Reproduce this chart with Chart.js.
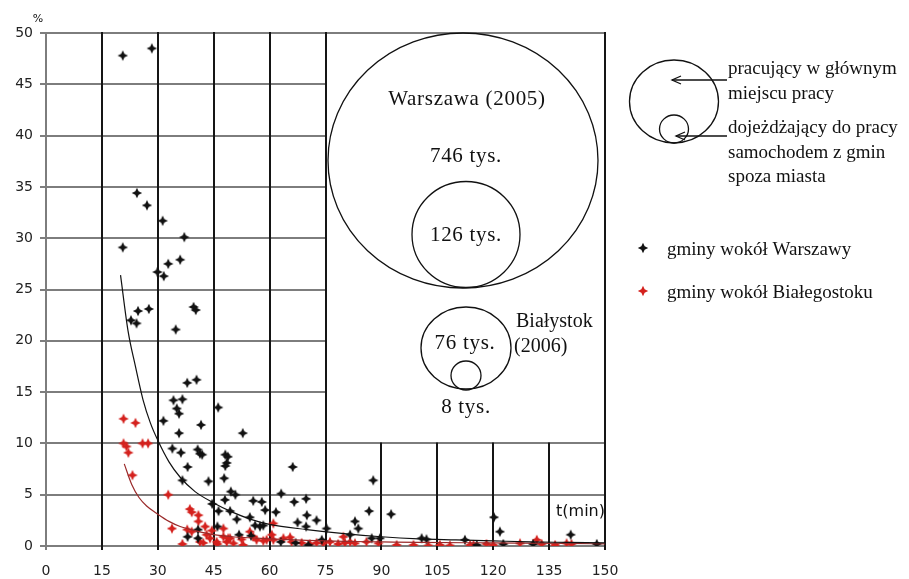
<!DOCTYPE html>
<html>
<head>
<meta charset="utf-8">
<script src="https://cdn.jsdelivr.net/npm/chart.js@4.4.1/dist/chart.umd.min.js"></script>
<style>
    body { margin: 0; background: #fff; }
    canvas { display: block; }
</style>
</head>
<body>
<canvas id="myChart" width="909" height="579"></canvas>
<script>
// axis ticks
const xTicks = [0, 15, 30, 45, 60, 75, 90, 105, 120, 135, 150]
const yTicks = [0, 5, 10, 15, 20, 25, 30, 35, 40, 45, 50]

// gminy wokół Warszawy: czas dojazdu (min) / udział (%)
const warsawTime = [20.6, 28.4, 24.4, 27.1, 31.3, 37.1, 20.6, 36.0, 32.8, 29.9, 31.6, 24.7, 27.6, 22.8, 24.3,
    39.6, 40.2, 34.8, 37.9, 40.4, 34.2, 36.6, 35.1, 35.7, 46.2, 31.5, 41.6, 35.7, 52.8, 33.9, 36.2, 40.7, 41.3,
    41.9, 48.1, 48.8, 48.5, 38.0, 48.1, 66.2, 36.6, 43.6, 47.8, 49.6, 50.8, 63.1, 69.8, 55.6, 57.9, 48.0, 66.6,
    58.8, 49.4, 61.7, 46.3, 70.0, 51.2, 54.7, 67.5, 72.6, 56.1, 57.4, 58.3, 69.8, 46.0, 40.8, 51.8, 38.0, 40.8,
    44.6, 75.3, 87.8, 86.7, 92.6, 82.9, 83.8, 81.6, 87.4, 89.6, 100.8, 102.1, 112.4, 115.6, 120.2, 121.8, 140.8,
    122.7, 130.7, 147.8, 70.4, 63.0, 67.0, 74.0, 55.0]
const warsawShare = [47.8, 48.5, 34.4, 33.2, 31.7, 30.1, 29.1, 27.9, 27.5, 26.7, 26.3, 22.9, 23.1, 22.0, 21.7,
    23.3, 23.0, 21.1, 15.9, 16.2, 14.2, 14.3, 13.4, 12.9, 13.5, 12.2, 11.8, 11.0, 11.0, 9.5, 9.1, 9.4, 9.0,
    8.9, 8.9, 8.7, 8.1, 7.7, 7.8, 7.7, 6.4, 6.3, 6.6, 5.3, 5.0, 5.1, 4.6, 4.4, 4.3, 4.5, 4.3,
    3.5, 3.4, 3.3, 3.4, 3.0, 2.6, 2.8, 2.3, 2.5, 2.0, 1.9, 2.0, 1.9, 1.9, 1.6, 1.1, 0.9, 0.75,
    4.1, 1.7, 6.4, 3.4, 3.1, 2.4, 1.7, 1.1, 0.75, 0.75, 0.75, 0.65, 0.6, 0.1, 2.8, 1.4, 1.1,
    0.2, 0.2, 0.2, 0.1, 0.4, 0.3, 0.6, 1.0]

// gminy wokół Białegostoku
const bialystokTime = [20.8, 24.0, 20.8, 25.9, 27.4, 21.6, 22.1, 23.2, 32.8, 38.6, 39.1, 40.9, 40.9, 33.8, 37.9,
    39.1, 42.7, 43.1, 44.0, 41.3, 42.2, 36.6, 47.6, 48.5, 45.8, 47.6, 48.9, 52.5, 54.7, 56.5, 58.3, 60.6, 61.0,
    61.0, 63.7, 65.5, 65.9, 68.6, 70.8, 72.6, 74.4, 76.2, 78.4, 80.2, 79.8, 81.6, 82.9, 86.0, 89.2, 94.1, 98.6,
    102.6, 105.7, 108.4, 113.8, 114.7, 118.2, 120.0, 127.2, 131.7, 133.0, 136.6, 139.7, 141.0, 50.3, 52.9, 55.6,
    59.2, 49.4, 44.5, 46.0]
const bialystokShare = [12.4, 12.0, 10.0, 10.0, 10.0, 9.7, 9.1, 6.9, 5.0, 3.6, 3.3, 3.0, 2.4, 1.7, 1.6,
    1.4, 1.9, 1.1, 0.75, 0.4, 0.3, 0.2, 0.9, 0.4, 0.4, 1.7, 0.75, 0.65, 1.4, 0.6, 0.5, 1.1, 0.6,
    2.2, 0.75, 0.85, 0.4, 0.3, 0.2, 0.3, 0.26, 0.4, 0.2, 0.3, 0.9, 0.4, 0.26, 0.4, 0.26, 0.1, 0.1,
    0.05, 0.1, 0.05, 0.1, 0.1, 0.2, 0.1, 0.26, 0.6, 0.2, 0.1, 0.26, 0.2, 0.26, 0.1, 0.9,
    0.6, 0.75, 1.5, 0.2]

// linie trendu
const warsawTrendTime = [20, 22, 24, 26, 28, 30, 33, 36, 40, 45, 50, 55, 60, 70, 80, 90, 100, 110, 120, 130, 140, 150]
const warsawTrendShare = [26.4, 21.0, 17.5, 14.3, 12.0, 10.3, 8.2, 6.7, 5.3, 4.2, 3.3, 2.6, 2.1, 1.6, 1.2, 0.9, 0.7, 0.6, 0.5, 0.4, 0.35, 0.3]
const bialystokTrendTime = [21, 23, 25, 27, 30, 33, 36, 40, 45, 50, 60, 70, 80, 90, 100, 120, 140, 150]
const bialystokTrendShare = [8.0, 6.0, 4.7, 3.9, 3.1, 2.4, 1.9, 1.5, 1.1, 0.9, 0.7, 0.55, 0.45, 0.4, 0.35, 0.3, 0.25, 0.2]

function toPoints(xs, ys) {
    return xs.map((v, i) => ({ x: v, y: ys[i] }))
}

function makeStar(color) {
    let c = document.createElement('canvas')
    c.width = 12
    c.height = 12
    let g = c.getContext('2d')
    g.fillStyle = color
    g.beginPath()
    for (let i = 0; i < 8; i++) {
        let a = i * Math.PI / 4 - Math.PI / 2
        let rad = i % 2 === 0 ? 5.2 : 2.3
        g.lineTo(6 + rad * Math.cos(a), 6 + rad * Math.sin(a))
    }
    g.closePath()
    g.fill()
    return c
}

const blackStar = makeStar('#111111')
const redStar = makeStar('#d4211d')

function strokeLine(ctx, x1, y1, x2, y2) {
    ctx.beginPath()
    ctx.moveTo(x1, y1)
    ctx.lineTo(x2, y2)
    ctx.stroke()
}

// grid: full up to 75 min, to the right only the 0-10 band (box with circles above)
const partialGrid = {
    id: 'partialGrid',
    beforeDatasetsDraw(chart) {
        let ctx = chart.ctx
        let xs = chart.scales.x
        let ys = chart.scales.y
        ctx.save()
        ctx.lineWidth = 2
        ctx.strokeStyle = '#7d7d7d'
        yTicks.forEach(v => {
            let py = Math.round(ys.getPixelForValue(v))
            let end = (v <= 10 || v === 50) ? 150 : 75
            strokeLine(ctx, xs.getPixelForValue(0) - 6, py, xs.getPixelForValue(end), py)
        })
        strokeLine(ctx, xs.getPixelForValue(0), ys.getPixelForValue(0) + 4, xs.getPixelForValue(0), ys.getPixelForValue(50))

        ctx.strokeStyle = '#151515'
        xTicks.forEach(v => {
            if (v === 0) return
            let px = Math.round(xs.getPixelForValue(v))
            let top = (v > 75 && v < 150) ? 10 : 50
            strokeLine(ctx, px, ys.getPixelForValue(0) + 4, px, ys.getPixelForValue(top) - 1)
        })
        ctx.restore()
    }
}

function ellipse(ctx, cx, cy, rx, ry) {
    ctx.beginPath()
    ctx.ellipse(cx, cy, rx, ry, 0, 0, Math.PI * 2)
    ctx.stroke()
}

function arrow(ctx, x1, x2, y) {
    strokeLine(ctx, x1, y, x2, y)
    ctx.beginPath()
    ctx.moveTo(x2 + 9, y - 4)
    ctx.lineTo(x2, y)
    ctx.lineTo(x2 + 9, y + 4)
    ctx.stroke()
}

const annotations = {
    id: 'annotations',
    afterDraw(chart) {
        let ctx = chart.ctx
        ctx.save()
        ctx.strokeStyle = '#111'
        ctx.fillStyle = '#111'
        ctx.lineWidth = 1.3

        // Warszawa
        ellipse(ctx, 463, 160.5, 135, 127.5)
        ellipse(ctx, 466, 234.5, 54, 53)
        // Białystok
        ellipse(ctx, 466, 348, 45, 41)
        ellipse(ctx, 466, 375.5, 15, 14.5)
        // legend circles
        ellipse(ctx, 674, 101.5, 44.5, 41.5)
        ellipse(ctx, 674, 129, 14.5, 14)
        arrow(ctx, 727, 672, 80)
        arrow(ctx, 727, 676, 136)

        ctx.textBaseline = 'middle'
        ctx.textAlign = 'center'
        ctx.font = '21px "Liberation Serif"'
        ctx.letterSpacing = '0.7px'
        ctx.fillText('Warszawa (2005)', 467, 99)
        ctx.fillText('746 tys.', 466, 156)
        ctx.fillText('126 tys.', 466, 235)
        ctx.fillText('76 tys.', 465, 343)
        ctx.fillText('8 tys.', 466, 407)

        ctx.textAlign = 'left'
        ctx.font = '20px "Liberation Serif"'
        ctx.letterSpacing = '0px'
        ctx.fillText('Białystok', 516, 322)
        ctx.fillText('(2006)', 514, 347)

        ctx.font = '19px "Liberation Serif"'
        ctx.fillText('pracujący w głównym', 728, 69)
        ctx.fillText('miejscu pracy', 728, 94)
        ctx.fillText('dojeżdżający do pracy', 728, 128)
        ctx.fillText('samochodem z gmin', 728, 153)
        ctx.fillText('spoza miasta', 728, 177)

        ctx.fillText('gminy wokół Warszawy', 667, 250)
        ctx.fillText('gminy wokół Białegostoku', 667, 293)
        ctx.drawImage(blackStar, 637, 242)
        ctx.drawImage(redStar, 637, 285)

        ctx.font = '16px "DejaVu Sans"'
        ctx.textAlign = 'right'
        ctx.fillText('t(min)', 605, 512)
        ctx.font = '11px "DejaVu Sans"'
        ctx.textAlign = 'center'
        ctx.fillText('%', 38, 19)
        ctx.restore()
    }
}

let ctx = document.getElementById('myChart').getContext('2d')
let chart = new Chart(ctx, {
    type: 'scatter',
    data: {
        datasets: [{
            label: 'gminy wokół Białegostoku',
            data: toPoints(bialystokTime, bialystokShare),
            pointStyle: redStar,
            order: 3
        }, {
            label: 'gminy wokół Warszawy',
            data: toPoints(warsawTime, warsawShare),
            pointStyle: blackStar,
            order: 2
        }, {
            label: 'trend Warszawa',
            type: 'line',
            data: toPoints(warsawTrendTime, warsawTrendShare),
            borderColor: '#111',
            borderWidth: 1.2,
            pointRadius: 0,
            cubicInterpolationMode: 'monotone',
            order: 1
        }, {
            label: 'trend Białystok',
            type: 'line',
            data: toPoints(bialystokTrendTime, bialystokTrendShare),
            borderColor: '#9a2a2a',
            borderWidth: 1.2,
            pointRadius: 0,
            cubicInterpolationMode: 'monotone',
            order: 1
        }]
    },
    options: {
        responsive: false,
        animation: false,
        layout: { padding: { top: 33, right: 304, left: 0, bottom: 0 } },
        plugins: {
            legend: { display: false },
            tooltip: { enabled: false }
        },
        scales: {
            x: {
                type: 'linear',
                min: 0,
                max: 150,
                afterBuildTicks: s => { s.ticks = xTicks.map(v => ({ value: v })) },
                afterFit: s => { s.height = 33 },
                grid: { display: false, drawTicks: false },
                border: { display: false },
                ticks: {
                    padding: 17,
                    color: '#222',
                    maxRotation: 0,
                    font: { family: 'DejaVu Sans', size: 14 }
                }
            },
            y: {
                type: 'linear',
                min: 0,
                max: 50,
                afterBuildTicks: s => { s.ticks = yTicks.map(v => ({ value: v })) },
                afterFit: s => { s.width = 46 },
                grid: { display: false, drawTicks: false },
                border: { display: false },
                ticks: {
                    padding: 13,
                    color: '#222',
                    font: { family: 'DejaVu Sans', size: 14 }
                }
            }
        }
    },
    plugins: [partialGrid, annotations]
})
</script>
</body>
</html>
